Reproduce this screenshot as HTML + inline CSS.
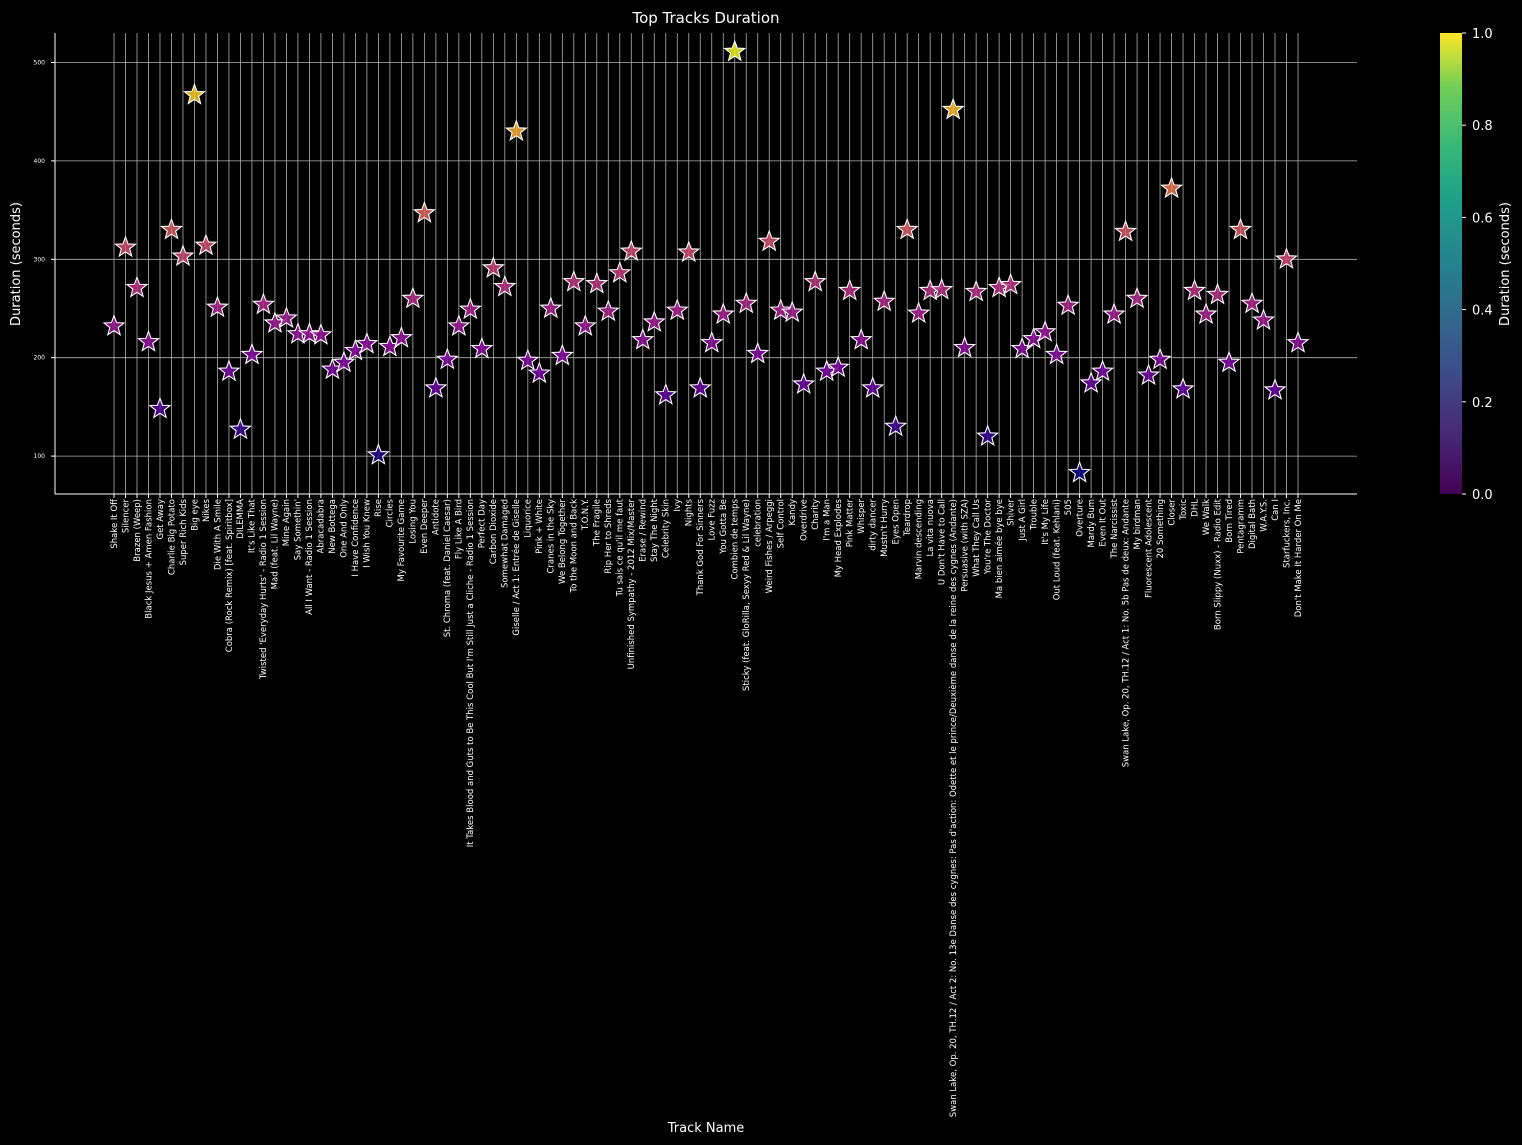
<!DOCTYPE html>
<html><head><meta charset="utf-8"><style>
html,body{margin:0;padding:0;background:#000;}
svg{display:block;font-family:"DejaVu Sans","Liberation Sans",sans-serif;}
</style></head><body>
<svg id="chart" width="1522" height="1145" viewBox="0 0 1522 1145" xmlns="http://www.w3.org/2000/svg">
<rect width="1522" height="1145" fill="#000"/>
<defs>
<linearGradient id="vir" x1="0" y1="1" x2="0" y2="0">
<stop offset="0" stop-color="#440154"/><stop offset="0.13" stop-color="#482878"/><stop offset="0.25" stop-color="#3e4989"/><stop offset="0.38" stop-color="#31688e"/><stop offset="0.5" stop-color="#26828e"/><stop offset="0.63" stop-color="#1f9e89"/><stop offset="0.75" stop-color="#35b779"/><stop offset="0.88" stop-color="#6ece58"/><stop offset="1" stop-color="#fde725"/>
</linearGradient>
</defs>
<text x="706" y="23" fill="#fff" font-size="15" text-anchor="middle">Top Tracks Duration</text>
<text transform="translate(20,264) rotate(-90)" fill="#fff" font-size="13" text-anchor="middle">Duration (seconds)</text>
<text x="706" y="1132" fill="#fff" font-size="13" text-anchor="middle">Track Name</text>
<g id="grid"></g>
<g id="ylabels"></g>
<g id="xlabels"></g>
<g id="marks"></g>
<line x1="55" y1="33" x2="55" y2="494" stroke="#fff" stroke-width="1"/>
<line x1="55" y1="494" x2="1357" y2="494" stroke="#fff" stroke-width="1"/>
<rect x="1440" y="33" width="22" height="461" fill="url(#vir)"/>
<g id="cbar"></g>
<text transform="translate(1509,264) rotate(-90)" fill="#fff" font-size="13" text-anchor="middle">Duration (seconds)</text>
</svg>
<script>
const tracks = ["Shake It Off","Silencer","Brazen (Weep)","Black Jesus + Amen Fashion","Get Away","Charlie Big Potato","Super Rich Kids","Big eye","Nikes","Die With A Smile","Cobra (Rock Remix) [feat. Spiritbox]","DILEMMA","It's Like That","Twisted 'Everyday Hurts' - Radio 1 Session","Mad (feat. Lil Wayne)","Mine Again","Say Somethin'","All I Want - Radio 1 Session","Abracadabra","New Bottega","One And Only","I Have Confidence","I Wish You Knew","Rise","Circles","My Favourite Game","Losing You","Even Deeper","Antidote","St. Chroma (feat. Daniel Caesar)","Fly Like A Bird","It Takes Blood and Guts to Be This Cool But I'm Still Just a Cliche - Radio 1 Session","Perfect Day","Carbon Dioxide","Somewhat Damaged","Giselle / Act 1: Entrée de Giselle","Liquorice","Pink + White","Cranes in the Sky","We Belong Together","To the Moon and Back","T.O.N.Y.","The Fragile","Rip Her to Shreds","Tu sais ce qu'il me faut","Unfinished Sympathy - 2012 Mix/Master","Erase / Rewind","Stay The Night","Celebrity Skin","Ivy","Nights","Thank God For Sinners","Love Fuzz","You Gotta Be","Combien de temps","Sticky (feat. GloRilla, Sexyy Red & Lil Wayne)","celebration","Weird Fishes / Arpeggi","Self Control","Kandy","Overdrive","Charity","I'm a Man","My Head Explodes","Pink Matter","Whisper","dirty dancer","Mustn't Hurry","Eyes Open","Teardrop","Marvin descending","La vita nuova","U Don't Have to Call","Swan Lake, Op. 20, TH.12 / Act 2: No. 13e Danse des cygnes: Pas d'action: Odette et le prince/Deuxième danse de la reine des cygnes (Andante)","Persuasive (with SZA)","What They Call Us","You're The Doctor","Ma bien aimée bye bye","Shiver","Just A Girl","Trouble","It's My Life","Out Loud (feat. Kehlani)","505","Overture","Mardy Bum","Even It Out","The Narcissist","Swan Lake, Op. 20, TH.12 / Act 1: No. 5b Pas de deux: Andante","My birdman","Fluorescent Adolescent","20 Something","Closer","Toxic","DHL","We Walk","Born Slippy (Nuxx) - Radio Edit","Born Tired","Pentagramm","Digital Bath","W.A.Y.S.","Can I","Starfuckers, Inc.","Don't Make It Harder On Me"];
const durations = [232,312,271,216,148,330,303,467,314,251,186,127,203,254,235,240,224,224,223,188,195,207,214,101,211,220,260,347,169,198,232,249,209,291,272,430,197,184,250,202,277,232,275,247,286,308,218,236,162,248,307,169,215,244,511,255,204,318,248,246,173,277,186,190,268,218,169,257,130,330,245,268,269,452,210,267,120,271,274,209,219,226,203,253,83,174,186,244,328,260,182,198,372,168,268,244,264,195,330,255,238,167,300,215];
const yTicks = [100,200,300,400,500];
const cbTicks = ["0.0","0.2","0.4","0.6","0.8","1.0"];

const NS="http://www.w3.org/2000/svg";
const X0=55,X1=1357,Y0=33,Y1=494;
const n=tracks.length;
function xs(i){return 114+i*(1298-114)/(n-1);}
function ys(v){return 554.5-v*0.984;}
function mk(tag,attrs,parent){const e=document.createElementNS(NS,tag);for(const k in attrs)e.setAttribute(k,attrs[k]);parent.appendChild(e);return e;}
const plasma=[[13,8,135],[84,2,163],[139,10,165],[185,50,137],[219,92,104],[244,136,73],[254,188,43],[240,249,33]];
function pcol(t){t=Math.max(0,Math.min(1,t));const p=t*(plasma.length-1);const i=Math.min(plasma.length-2,Math.floor(p));const f=p-i;const a=plasma[i],b=plasma[i+1];return `rgb(${Math.round(a[0]+(b[0]-a[0])*f)},${Math.round(a[1]+(b[1]-a[1])*f)},${Math.round(a[2]+(b[2]-a[2])*f)})`;}
function starPath(cx,cy,R){const r=R*0.42;let d="";for(let k=0;k<10;k++){const rr=k%2?r:R;const a=-Math.PI/2+k*Math.PI/5;d+=(k?"L":"M")+(cx+rr*Math.cos(a)).toFixed(2)+","+(cy+rr*Math.sin(a)).toFixed(2);}return d+"Z";}

const grid=document.getElementById('grid'),yl=document.getElementById('ylabels'),xl=document.getElementById('xlabels'),marks=document.getElementById('marks'),cb=document.getElementById('cbar');
yTicks.forEach(v=>{
  const g=mk('line',{x1:X0,x2:X1,y1:ys(v),y2:ys(v),stroke:'#b0b0b0','stroke-width':0.8},grid);
  
  
  const t=mk('text',{x:X0-10,y:ys(v)+2,fill:'#fff','font-size':6,'text-anchor':'end'},yl);
  t.textContent=v;
  
  
  mk('line',{x1:X0-4,x2:X0,y1:ys(v),y2:ys(v),stroke:'#fff'},yl);
});
tracks.forEach((name,i)=>{
  const x=xs(i);
  const g=mk('line',{x1:x,x2:x,y1:Y0,y2:Y1,stroke:'#b0b0b0','stroke-width':0.8},grid);
  
  
  mk('line',{x1:x,x2:x,y1:Y1,y2:Y1+4,stroke:'#fff'},xl);
  const t=mk('text',{transform:`translate(${x+2.8},499) rotate(-90)`,fill:'#fff','font-size':8.5,'text-anchor':'end'},xl);
  t.textContent=name;
  
  
});
const mn=Math.min(...durations),mx=Math.max(...durations);
durations.forEach((v,i)=>{
  const p=mk('path',{d:starPath(xs(i),ys(v),10.5),fill:pcol((v-mn)/(mx-mn)),'fill-opacity':0.85,stroke:'#fff','stroke-width':1.1,'stroke-linejoin':'miter'},marks);
  
  
});
cbTicks.forEach((lab,i)=>{
  const y=494-i*461/(cbTicks.length-1);
  mk('line',{x1:1462,x2:1466,y1:y,y2:y,stroke:'#fff'},cb);
  const t=mk('text',{x:1472,y:y+5,fill:'#fff','font-size':13},cb);
  t.textContent=lab;
  
  
});
</script>
</body></html>
